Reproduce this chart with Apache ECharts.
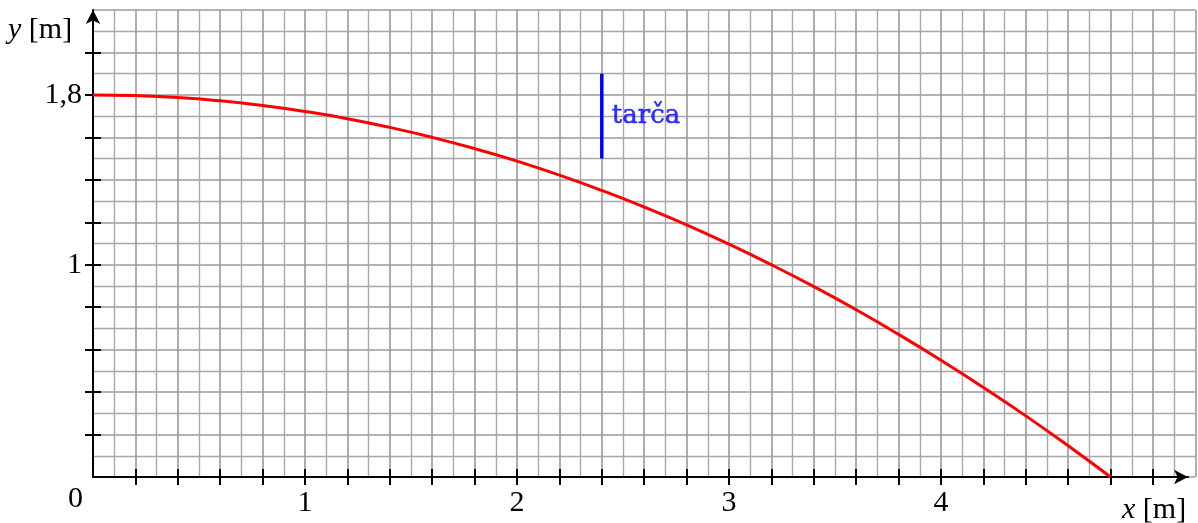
<!DOCTYPE html>
<html>
<head>
<meta charset="utf-8">
<script src="https://cdn.jsdelivr.net/npm/echarts@6/dist/echarts.min.js"></script>
<style>html,body{margin:0;padding:0;background:#fff}#c{width:1198px;height:523px}</style>
</head>
<body>
<div id="c"></div>
<script>
// Trajectory (x in m, y in m)
var curveX = [0, 0.2, 0.4, 0.6, 0.8, 1.0, 1.2, 1.4, 1.6, 1.8, 2.0, 2.2, 2.4, 2.6, 2.8, 3.0, 3.2, 3.4, 3.6, 3.8, 4.0, 4.2, 4.4, 4.6, 4.8];
var curveY = [1.8, 1.797, 1.788, 1.772, 1.75, 1.722, 1.688, 1.647, 1.6, 1.547, 1.488, 1.422, 1.35, 1.272, 1.188, 1.097, 1.0, 0.897, 0.788, 0.672, 0.55, 0.422, 0.288, 0.147, 0.0];
// Target (tarča)
var targetX = [2.4, 2.4];
var targetY = [1.5, 1.9];
var targetLabel = 'tarča';
// Ticks and labels
var xTicks = [0.2,0.4,0.6,0.8,1,1.2,1.4,1.6,1.8,2,2.2,2.4,2.6,2.8,3,3.2,3.4,3.6,3.8,4,4.2,4.4,4.6,4.8,5];
var yTicks = [0.2,0.4,0.6,0.8,1,1.2,1.4,1.6,1.8,2];
var xLabels = [1, 2, 3, 4];
var yLabels = [1, 1.8];

var chart = echarts.init(document.getElementById('c'));
var serif = '"Liberation Serif", serif';
var FS = 30;
var curveData = curveX.map(function (x, i) { return [x, curveY[i]]; });
var targetData = targetX.map(function (x, i) { return [x, targetY[i]]; });
var targetMid = [[targetX[0], (targetY[0] + targetY[1]) / 2]];

function gridAxis(max) {
  return {
    type: 'value', min: 0, max: max, interval: 0.2,
    axisLine: {show: false}, axisTick: {show: false}, axisLabel: {show: false},
    splitLine: {show: true, lineStyle: {color: '#9a9a9a', width: 1.6}},
    minorTick: {show: false, splitNumber: 2},
    minorSplitLine: {show: true, lineStyle: {color: '#a8a8a8', width: 1.4}}
  };
}
function fmt(v) { return String(v).replace('.', ','); }

var option = {
  animation: false,
  grid: [
    {left: 93, right: 2.6, top: 10, bottom: 46},
    {left: 93, right: 10, top: 10, bottom: 46}
  ],
  xAxis: [
    Object.assign(gridAxis(5.2), {gridIndex: 0}),
    {
      gridIndex: 1, type: 'value', min: 0, max: 5.165, position: 'bottom',
      axisLine: {show: true, symbol: ['none', 'arrow'], symbolSize: [11, 14], lineStyle: {color: '#000', width: 2}},
      axisTick: {show: true, inside: false, length: 8, customValues: xTicks, lineStyle: {color: '#000', width: 2}},
      axisLabel: {show: true, customValues: xLabels, margin: 11, color: '#000', fontFamily: serif, fontSize: FS, formatter: fmt},
      splitLine: {show: false}
    },
    {
      gridIndex: 1, type: 'value', min: 0, max: 5.165, position: 'bottom',
      axisLine: {show: false},
      axisTick: {show: true, inside: true, length: 8, customValues: xTicks, lineStyle: {color: '#000', width: 2}},
      axisLabel: {show: false},
      splitLine: {show: false}
    }
  ],
  yAxis: [
    Object.assign(gridAxis(2.2), {gridIndex: 0}),
    {
      gridIndex: 1, type: 'value', min: 0, max: 2.2, position: 'left',
      axisLine: {show: true, symbol: ['none', 'arrow'], symbolSize: [11, 14], lineStyle: {color: '#000', width: 2}},
      axisTick: {show: true, inside: false, length: 8, customValues: yTicks, lineStyle: {color: '#000', width: 2}},
      axisLabel: {show: true, customValues: yLabels, margin: 11, color: '#000', fontFamily: serif, fontSize: FS, formatter: fmt},
      splitLine: {show: false}
    },
    {
      gridIndex: 1, type: 'value', min: 0, max: 2.2, position: 'left',
      axisLine: {show: false},
      axisTick: {show: true, inside: true, length: 8, customValues: yTicks, lineStyle: {color: '#000', width: 2}},
      axisLabel: {show: false},
      splitLine: {show: false}
    }
  ],
  series: [
    {
      type: 'line', xAxisIndex: 0, yAxisIndex: 0, data: curveData, smooth: true,
      showSymbol: false, lineStyle: {color: '#ff0000', width: 3}, z: 5
    },
    {
      type: 'line', xAxisIndex: 0, yAxisIndex: 0, data: targetData,
      showSymbol: false, lineStyle: {color: '#0000ff', width: 3.5}, z: 5
    },
    {
      type: 'scatter', xAxisIndex: 0, yAxisIndex: 0, data: targetMid, symbolSize: 0,
      label: {show: true, position: 'right', distance: 10, formatter: targetLabel,
        color: '#0000ff', fontFamily: '"DejaVu Serif", serif', fontSize: 26,
        textBorderColor: '#0000ff', textBorderWidth: 0.5}, z: 6
    }
  ],
  graphic: [
    {type: 'text', left: 8, top: 15, style: {
      text: '{i|y} [m]', fill: '#000', font: FS + 'px "Liberation Serif", serif',
      rich: {i: {fontStyle: 'italic', fontFamily: serif, fontSize: FS}}
    }},
    {type: 'text', left: 1122, top: 495, style: {
      text: '{i|x} [m]', fill: '#000', font: FS + 'px "Liberation Serif", serif',
      rich: {i: {fontStyle: 'italic', fontFamily: serif, fontSize: FS}}
    }},
    {type: 'text', left: 68, top: 484, style: {
      text: '0', fill: '#000', font: FS + 'px "Liberation Serif", serif'
    }}
  ]
};
chart.setOption(option);
</script>
</body>
</html>
